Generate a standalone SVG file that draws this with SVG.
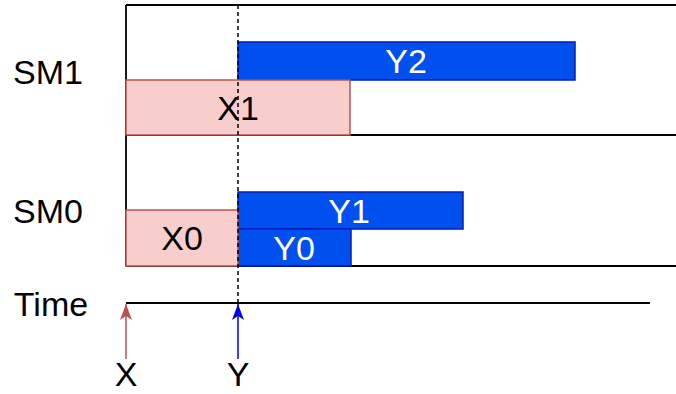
<svg xmlns="http://www.w3.org/2000/svg" width="676" height="394" viewBox="0 0 676 394">
<defs>
<style>
.lbl{font-family:"Liberation Sans",Arial,sans-serif;font-size:34px;fill:#000;text-anchor:middle}
.w{fill:#fff}
.ln{stroke:#000;stroke-width:1.8;fill:none}
.xr{fill:#F8CECC;stroke:#B85450;stroke-width:1.5}
.yr{fill:#0050EF;stroke:#001DBC;stroke-width:1.5}
</style>
<marker id="ax" viewBox="0 0 16 12" refX="16" refY="6" markerWidth="16" markerHeight="12" markerUnits="userSpaceOnUse" orient="auto"><path d="M0,0 L16,6 L0,12 L4,6 Z" fill="#B85450"/></marker>
<marker id="ay" viewBox="0 0 16 12" refX="16" refY="6" markerWidth="16" markerHeight="12" markerUnits="userSpaceOnUse" orient="auto"><path d="M0,0 L16,6 L0,12 L4,6 Z" fill="#0000EE"/></marker>
</defs>
<rect width="676" height="394" fill="#fff"/>
<g id="frame">
<path class="ln" d="M126,5 H676 M126,5 V266 M126,135 H676 M126,266 H676"/>
</g>
<g id="timeline">
<path class="ln" d="M126,303 H650"/>
</g>
<g id="Y2"><rect class="yr" x="238" y="42" width="337" height="38"/><text class="lbl w" x="406" y="73">Y2</text></g>
<g id="X1"><rect class="xr" x="126" y="80" width="224" height="55"/><text class="lbl" x="238" y="120">X1</text></g>
<g id="Y1"><rect class="yr" x="238" y="192" width="225" height="37"/><text class="lbl w" x="349" y="223">Y1</text></g>
<g id="Y0"><rect class="yr" x="238" y="229" width="113" height="37"/><text class="lbl w" x="294" y="260">Y0</text></g>
<g id="X0"><rect class="xr" x="126" y="210" width="112" height="56"/><text class="lbl" x="182" y="250">X0</text></g>
<g id="connectors">
<path d="M238,5 V303" stroke="#000" stroke-width="1.5" stroke-dasharray="4 3" fill="none"/>
<path d="M126,359 V304" stroke="#B85450" stroke-width="1.5" fill="none" marker-end="url(#ax)"/>
<path d="M238,359 V304" stroke="#0000EE" stroke-width="1.5" fill="none" marker-end="url(#ay)"/>
</g>
<g id="labels">
<text class="lbl" x="48" y="84">SM1</text>
<text class="lbl" x="48" y="223">SM0</text>
<text class="lbl" x="51" y="316">Time</text>
<text class="lbl" x="126" y="386">X</text>
<text class="lbl" x="238" y="386">Y</text>
</g>
</svg>
